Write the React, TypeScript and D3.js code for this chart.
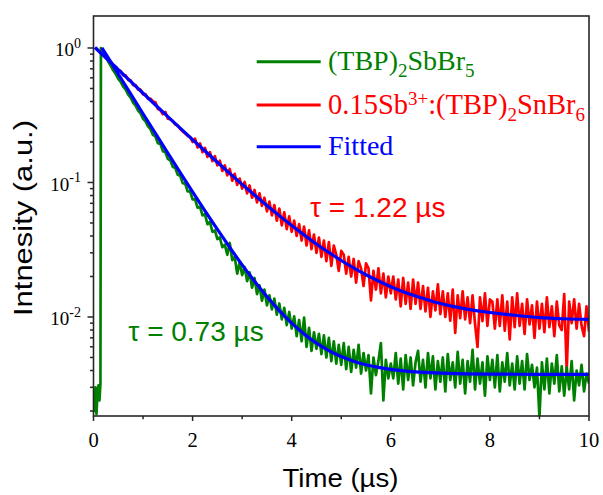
import React from 'react';
import * as d3 from 'd3';

// ---------- data ----------
const redStart = 0.05;
const redStep = 0.05;
const redData = [
  1.00, 0.955, 0.91, 0.89, 0.845, 0.80, 0.79, 0.74, 0.725, 0.685,
  0.675, 0.625, 0.625, 0.58, 0.575, 0.53, 0.53, 0.49, 0.49, 0.452,
  0.455, 0.418, 0.42, 0.40, 0.395, 0.352, 0.345, 0.322, 0.335, 0.298,
  0.295, 0.285, 0.27, 0.265, 0.25, 0.24, 0.232, 0.222, 0.218, 0.2,
  0.212, 0.182, 0.195, 0.168, 0.181, 0.155, 0.168, 0.144, 0.157, 0.134,
  0.145, 0.122, 0.134, 0.113, 0.126, 0.103, 0.116, 0.096, 0.107, 0.09,
  0.101, 0.083, 0.095, 0.077, 0.088, 0.071, 0.083, 0.067, 0.077, 0.061,
  0.072, 0.057, 0.068, 0.052, 0.064, 0.048, 0.060, 0.045, 0.056, 0.043,
  0.052, 0.040, 0.049, 0.037, 0.047, 0.034, 0.044, 0.032, 0.041, 0.030,
  0.039, 0.028, 0.037, 0.026, 0.036, 0.024, 0.034, 0.029, 0.022, 0.031,
  0.029, 0.021, 0.028, 0.020, 0.027, 0.018, 0.026, 0.023, 0.017, 0.025,
  0.023, 0.0133, 0.022, 0.016, 0.023, 0.015, 0.021, 0.014, 0.020, 0.0150,
  0.020, 0.0135, 0.019, 0.012, 0.0195, 0.0125, 0.018, 0.0115, 0.019, 0.0125,
  0.018, 0.0115, 0.017, 0.011, 0.0165, 0.0100, 0.0155, 0.0112, 0.0175, 0.0105,
  0.0155, 0.0100, 0.015, 0.0094, 0.016, 0.0076, 0.0145, 0.0098, 0.0155, 0.0096,
  0.014, 0.0090, 0.0145, 0.0089, 0.006, 0.014, 0.0093, 0.015, 0.0086, 0.0135,
  0.013, 0.0082, 0.0135, 0.0086, 0.0145, 0.0079, 0.013, 0.0068, 0.014, 0.0084,
  0.0150, 0.0086, 0.0125, 0.0075, 0.0135, 0.0088, 0.0122, 0.0070, 0.0130, 0.0082,
  0.0125, 0.0077, 0.0140, 0.0084, 0.0120, 0.0072, 0.0130, 0.0087, 0.0080, 0.0148,
  0.0040, 0.0130, 0.0090, 0.0135, 0.0082, 0.0125, 0.0086, 0.0072, 0.0120, 0.0078,
];

const greenPreTimes = [0, 0.02, 0.04, 0.06, 0.08, 0.10, 0.12, 0.14];
const greenPreValues = [0.0028, 0.0020, 0.0030, 0.0019, 0.0027, 0.0031, 0.0024, 0.0032];
const greenStart = 0.15;
const greenStep = 0.05;
const greenData = [
  1.0, 0.93, 0.86, 0.79, 0.735, 0.68, 0.64, 0.59,
  0.56, 0.515, 0.49, 0.45, 0.428, 0.392, 0.372, 0.342, 0.326, 0.298,
  0.285, 0.261, 0.249, 0.226, 0.22, 0.196, 0.193, 0.171, 0.168, 0.15,
  0.146, 0.131, 0.128, 0.114, 0.112, 0.099, 0.098, 0.086, 0.086, 0.075,
  0.075, 0.065, 0.066, 0.057, 0.058, 0.049, 0.051, 0.043, 0.044, 0.038,
  0.039, 0.033, 0.0345, 0.029, 0.0355, 0.0265, 0.028, 0.021, 0.0255, 0.0205,
  0.0235, 0.0185, 0.0215, 0.0165, 0.0195, 0.0148, 0.0172, 0.0132, 0.0160, 0.0122,
  0.0145, 0.0114, 0.0137, 0.0104, 0.0126, 0.0096, 0.0117, 0.0087, 0.0109, 0.0082,
  0.0101, 0.0072, 0.0095, 0.0066, 0.0099, 0.0060, 0.0083, 0.0056, 0.0077, 0.0058,
  0.0075, 0.0053, 0.0073, 0.0050, 0.0070, 0.0047, 0.0066, 0.0045, 0.0062, 0.0044,
  0.0064, 0.0041, 0.0060, 0.0039, 0.0057, 0.0042, 0.0062, 0.0038, 0.0054, 0.0040,
  0.0052, 0.0027, 0.0050, 0.0037, 0.0047, 0.0064, 0.0024, 0.0048, 0.0035, 0.0045,
  0.0035, 0.0054, 0.0032, 0.0049, 0.0029, 0.0052, 0.0034, 0.0050, 0.0031, 0.0046,
  0.0056, 0.0033, 0.0048, 0.0030, 0.0054, 0.0035, 0.0051, 0.0029, 0.0047, 0.0033,
  0.0050, 0.0028, 0.0053, 0.0034, 0.0046, 0.0030, 0.0055, 0.0032, 0.0048, 0.0027,
  0.0047, 0.0033, 0.0057, 0.0029, 0.0049, 0.0032, 0.0046, 0.0026, 0.0051, 0.0034,
  0.0048, 0.0030, 0.0052, 0.0028, 0.0046, 0.0033, 0.0054, 0.0031, 0.0045, 0.0029,
  0.0051, 0.0032, 0.0047, 0.0029, 0.0053, 0.0034, 0.0044, 0.0030, 0.0042, 0.0018,
  0.0046, 0.0029, 0.0049, 0.0027, 0.0045, 0.0032, 0.0052, 0.0028, 0.0043, 0.0026,
  0.0042, 0.0029, 0.0047, 0.0024, 0.0040, 0.0031, 0.0044, 0.0028, 0.0038, 0.0032,
];

const fitRedTimes = [0.03, 0.25, 0.5, 0.75, 1.0, 1.25, 1.5, 1.75, 2.0, 2.25, 2.5, 2.75, 3.0, 3.25, 3.5, 3.75, 4.0, 4.25, 4.5, 4.75, 5.0, 5.25, 5.5, 5.75, 6.0, 6.25, 6.5, 6.75, 7.0, 7.25, 7.5, 7.75, 8.0, 8.5, 9.0, 9.5, 10];
const fitRedValues = [1.009, 0.844, 0.690, 0.564, 0.461, 0.377, 0.309, 0.2535, 0.2082, 0.1714, 0.1413, 0.1169, 0.0969, 0.0807, 0.0675, 0.0567, 0.0479, 0.0408, 0.0349, 0.0302, 0.0263, 0.0232, 0.0206, 0.0185, 0.0168, 0.0154, 0.0143, 0.0134, 0.0126, 0.0120, 0.0115, 0.0111, 0.0108, 0.0103, 0.0099, 0.0097, 0.0096];

const fitGreenTimes = [0.17, 0.25, 0.5, 0.75, 1.0, 1.25, 1.5, 1.75, 2.0, 2.25, 2.5, 2.75, 3.0, 3.25, 3.5, 3.75, 4.0, 4.25, 4.5, 4.75, 5.0, 5.25, 5.5, 5.75, 6.0, 6.5, 7.0, 7.5, 8.0, 9.0, 10];
const fitGreenValues = [1.0, 0.900, 0.640, 0.4555, 0.3245, 0.2315, 0.1655, 0.1185, 0.0852, 0.0616, 0.0448, 0.0329, 0.0244, 0.01845, 0.01418, 0.01116, 0.00900, 0.00748, 0.00639, 0.00563, 0.00508, 0.00469, 0.00441, 0.00422, 0.00408, 0.00391, 0.00383, 0.00378, 0.00376, 0.00375, 0.00374];

const xMajorTicks = [0, 2, 4, 6, 8, 10];
const xMinorTicks = [1, 3, 5, 7, 9];
const yMajorTicks = [1, 0.1, 0.01];
const yMajorExps = ['0', '-1', '-2'];
const yMinorTicks = [0.002, 0.003, 0.004, 0.005, 0.006, 0.007, 0.008, 0.009, 0.02, 0.03, 0.04, 0.05, 0.06, 0.07, 0.08, 0.09, 0.2, 0.3, 0.4, 0.5, 0.6, 0.7, 0.8, 0.9];

const COLORS = { green: '#008000', red: '#ff0000', blue: '#0000ff' };
const SERIF = '"Liberation Serif", "Times New Roman", serif';
const SANS = '"Liberation Sans", Arial, sans-serif';

type Pt = [number, number];

export default function App() {
  const W = 603, H = 495;
  const L = 93.5, R = 589, T = 16, B = 416;
  const x = d3.scaleLinear().domain([0, 10]).range([L, R]);
  const y = d3.scaleLog().domain([0.001836, 1.729]).range([B, T]);

  const line = d3.line<Pt>().x(d => x(d[0])).y(d => y(d[1]));
  const smooth = d3.line<Pt>().x(d => x(d[0])).y(d => y(d[1])).curve(d3.curveMonotoneX);

  const redPts: Pt[] = redData.map((v, i) => [redStart + i * redStep, v]);
  const greenPts: Pt[] = [
    ...greenPreTimes.map((t, i) => [t, greenPreValues[i]] as Pt),
    ...greenData.map((v, i) => [greenStart + i * greenStep, v] as Pt),
  ];
  const fitRed: Pt[] = fitRedTimes.map((t, i) => [t, fitRedValues[i]]);
  const fitGreen: Pt[] = fitGreenTimes.map((t, i) => [t, fitGreenValues[i]]);

  const legend = [
    { color: COLORS.green, y: 61.7 },
    { color: COLORS.red, y: 105 },
    { color: COLORS.blue, y: 146.7 },
  ];

  return (
    <svg width={W} height={H} style={{ position: 'absolute', left: 0, top: 0, background: '#fff' }}>
      <defs>
        <clipPath id="plot">
          <rect x={L} y={T} width={R - L} height={B - T} />
        </clipPath>
      </defs>
      <rect x={0} y={0} width={W} height={H} fill="#fff" />

      <g clipPath="url(#plot)" fill="none" strokeLinejoin="round">
        <path d={line(redPts) || ''} stroke={COLORS.red} strokeWidth={2.7} />
        <path d={line(greenPts) || ''} stroke={COLORS.green} strokeWidth={2.7} />
        <path d={smooth(fitRed) || ''} stroke={COLORS.blue} strokeWidth={3.2} />
        <path d={smooth(fitGreen) || ''} stroke={COLORS.blue} strokeWidth={3.2} />
      </g>

      {/* frame */}
      <rect x={L} y={T} width={R - L} height={B - T} fill="none" stroke="#262626" strokeWidth={1.6} />

      {/* x ticks */}
      {xMajorTicks.map(t => (
        <g key={'xm' + t}>
          <line x1={x(t)} x2={x(t)} y1={B} y2={B + 5} stroke="#262626" strokeWidth={1.5} />
          <text x={x(t)} y={447} textAnchor="middle" fontFamily={SERIF} fontSize={20.5} fill="#000">{t}</text>
        </g>
      ))}
      {xMinorTicks.map(t => (
        <line key={'xn' + t} x1={x(t)} x2={x(t)} y1={B} y2={B + 3.3} stroke="#262626" strokeWidth={1.5} />
      ))}

      {/* y ticks */}
      {yMajorTicks.map((v, i) => (
        <g key={'ym' + v}>
          <line x1={L - 6} x2={L} y1={y(v)} y2={y(v)} stroke="#262626" strokeWidth={1.5} />
          <text x={81} y={y(v) + 8.5} textAnchor="end" fontFamily={SERIF} fontSize={19} fill="#000">
            10<tspan fontSize={14} dy={-8.5}>{yMajorExps[i]}</tspan>
          </text>
        </g>
      ))}
      {yMinorTicks.map(v => (
        <line key={'yn' + v} x1={L - 3.5} x2={L} y1={y(v)} y2={y(v)} stroke="#262626" strokeWidth={1.5} />
      ))}

      {/* axis titles */}
      <text x={340.5} y={486.7} textAnchor="middle" fontFamily={SANS} fontSize={26} textLength={116} lengthAdjust="spacingAndGlyphs" fill="#000">Time (µs)</text>
      <text transform="translate(32,218) rotate(-90)" textAnchor="middle" fontFamily={SANS} fontSize={25.5} textLength={196} lengthAdjust="spacingAndGlyphs" fill="#000">Intnesity (a.u.)</text>

      {/* legend */}
      {legend.map(l => (
        <line key={l.color} x1={256.7} x2={320.7} y1={l.y} y2={l.y} stroke={l.color} strokeWidth={3} />
      ))}
      <text x={328} y={70} fontFamily={SERIF} fontSize={28} fill={COLORS.green}>
        (TBP)<tspan fontSize={19} dy={7}>2</tspan><tspan dy={-7}>SbBr</tspan><tspan fontSize={19} dy={7}>5</tspan>
      </text>
      <text x={328} y={114} fontFamily={SERIF} fontSize={28.5} fill={COLORS.red}>
        0.15Sb<tspan fontSize={19} dy={-9}>3+</tspan><tspan dy={9}>:(TBP)</tspan><tspan fontSize={19} dy={7}>2</tspan><tspan dy={-7}>SnBr</tspan><tspan fontSize={19} dy={7}>6</tspan>
      </text>
      <text x={328} y={155} fontFamily={SERIF} fontSize={28} fill={COLORS.blue}>Fitted</text>

      {/* annotations */}
      <text x={310} y={216.7} fontFamily={SANS} fontSize={28} fill={COLORS.red}>τ = 1.22 µs</text>
      <text x={128.3} y={341} fontFamily={SANS} fontSize={28} fill={COLORS.green}>τ = 0.73 µs</text>
    </svg>
  );
}
